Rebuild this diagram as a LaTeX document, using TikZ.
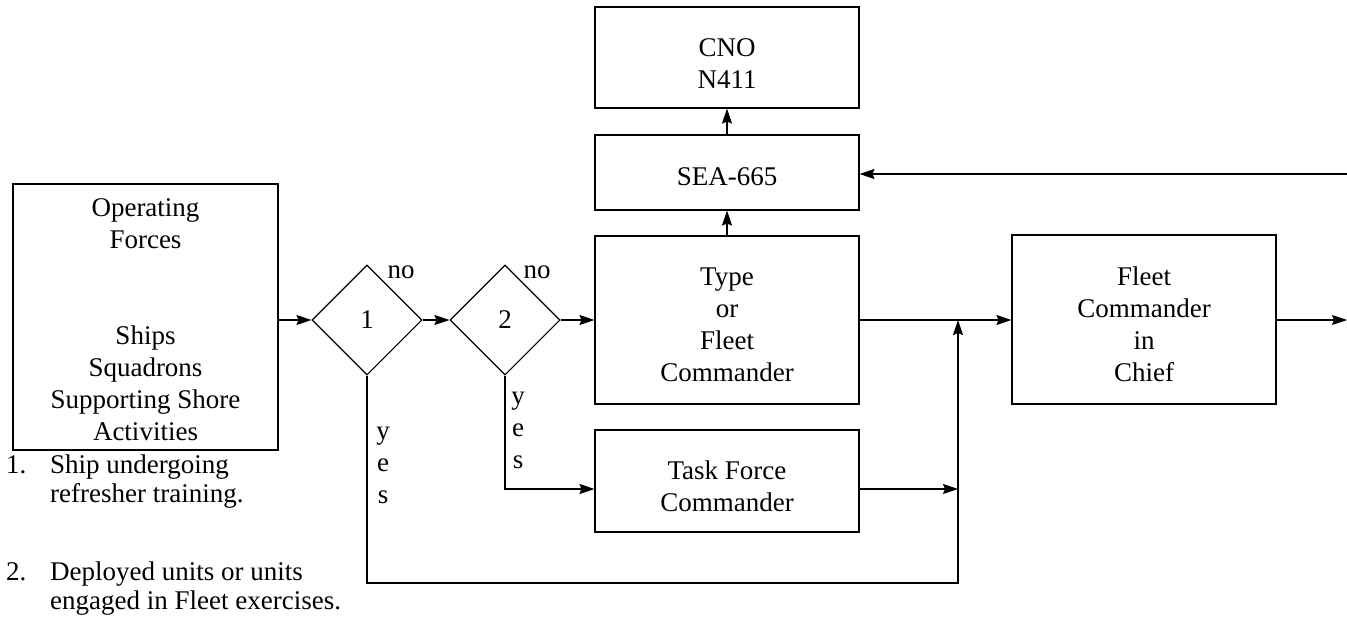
\documentclass[tikz,border=0pt]{standalone}
\usepackage{fontspec}
\setmainfont{Liberation Serif}
\usetikzlibrary{shapes.geometric,arrows.meta}
\begin{document}
\begin{tikzpicture}[x=1pt,y=-1pt,
  every node/.style={font=\fontsize{27}{32}\selectfont, inner sep=0pt},
  boxnode/.style={draw, line width=1.1pt, rectangle},
  dia/.style={draw, line width=1.1pt, diamond, minimum width=110pt, minimum height=110pt, inner sep=0pt},
  lbl/.style={align=center},
  note/.style={anchor=base west},
  vert/.style={align=center, font=\fontsize{27}{32}\selectfont},
  arr/.style={line width=1.1pt, -{Stealth[length=15pt,width=10pt,inset=2pt]}}]
\useasboundingbox (0,0) rectangle (1347,616);

% boxes
\node[boxnode, minimum width=265pt, minimum height=266pt] (op) at (145.5,317) {};
\node[lbl] (optop) at (145.5,224) {Operating\\Forces};
\node[lbl] (opbot) at (145.5,383) {Ships\\Squadrons\\Supporting Shore\\Activities};

\node[dia] (d1) at (367,320) {1};
\node[dia] (d2) at (505,320) {2};
\node (no1) at (401,272) {no};
\node (no2) at (537,272) {no};

\node[boxnode, minimum width=264pt, minimum height=101pt] (cno) at (727,57.5) {};
\node[lbl] (cnot) at (727,64) {CNO\\N411};
\node[boxnode, minimum width=264pt, minimum height=75pt] (sea) at (727,172.5) {};
\node[lbl] (seat) at (727,177) {SEA-665};
\node[boxnode, minimum width=264pt, minimum height=168pt] (type) at (727,320) {};
\node[lbl] (typet) at (727,325) {Type\\or\\Fleet\\Commander};
\node[boxnode, minimum width=264pt, minimum height=102pt] (task) at (727,481) {};
\node[lbl] (taskt) at (727,486.5) {Task Force\\Commander};
\node[boxnode, minimum width=264pt, minimum height=169pt] (fcc) at (1144,319.5) {};
\node[lbl] (fcct) at (1144,324) {Fleet\\Commander\\in\\Chief};

\node[vert] (yes1) at (383,465) {y\\e\\s};
\node[vert] (yes2) at (518,430) {y\\e\\s};

% notes
\node[note] (n1) at (6,473) {1.};
\node[note] (n1a) at (50,473) {Ship undergoing};
\node[note] (n1b) at (50,502) {refresher training.};
\node[note] (n2) at (6,580) {2.};
\node[note] (n2a) at (50,580) {Deployed units or units};
\node[note] (n2b) at (50,609) {engaged in Fleet exercises.};

% coordinates
\coordinate (inR) at (1347,174);
\coordinate (outR) at (1347,320);
\coordinate (j) at (958,320);
\coordinate (jb) at (958,583);

% connectors
\draw[arr] (op.east |- d1.west) -- (d1.west);
\draw[arr] (d1.east) -- (d2.west);
\draw[arr] (d2.east) -- (type.west |- d2.east);
\draw[arr] (type.north) -- (sea.south);
\draw[arr] (sea.north) -- (cno.south);
\draw[arr] (inR) -- (sea.east |- inR);
\draw[arr] (type.east |- j) -- (fcc.west |- j);
\draw[arr] (fcc.east |- outR) -- (outR);
\draw[arr] (d2.south) |- (task.west |- 0,489);
\draw[arr] (task.east |- 0,489) -- (j |- 0,489);
\draw[arr] (d1.south) -- (d1.south |- jb) -- (jb) -- (j);
\end{tikzpicture}
\end{document}
